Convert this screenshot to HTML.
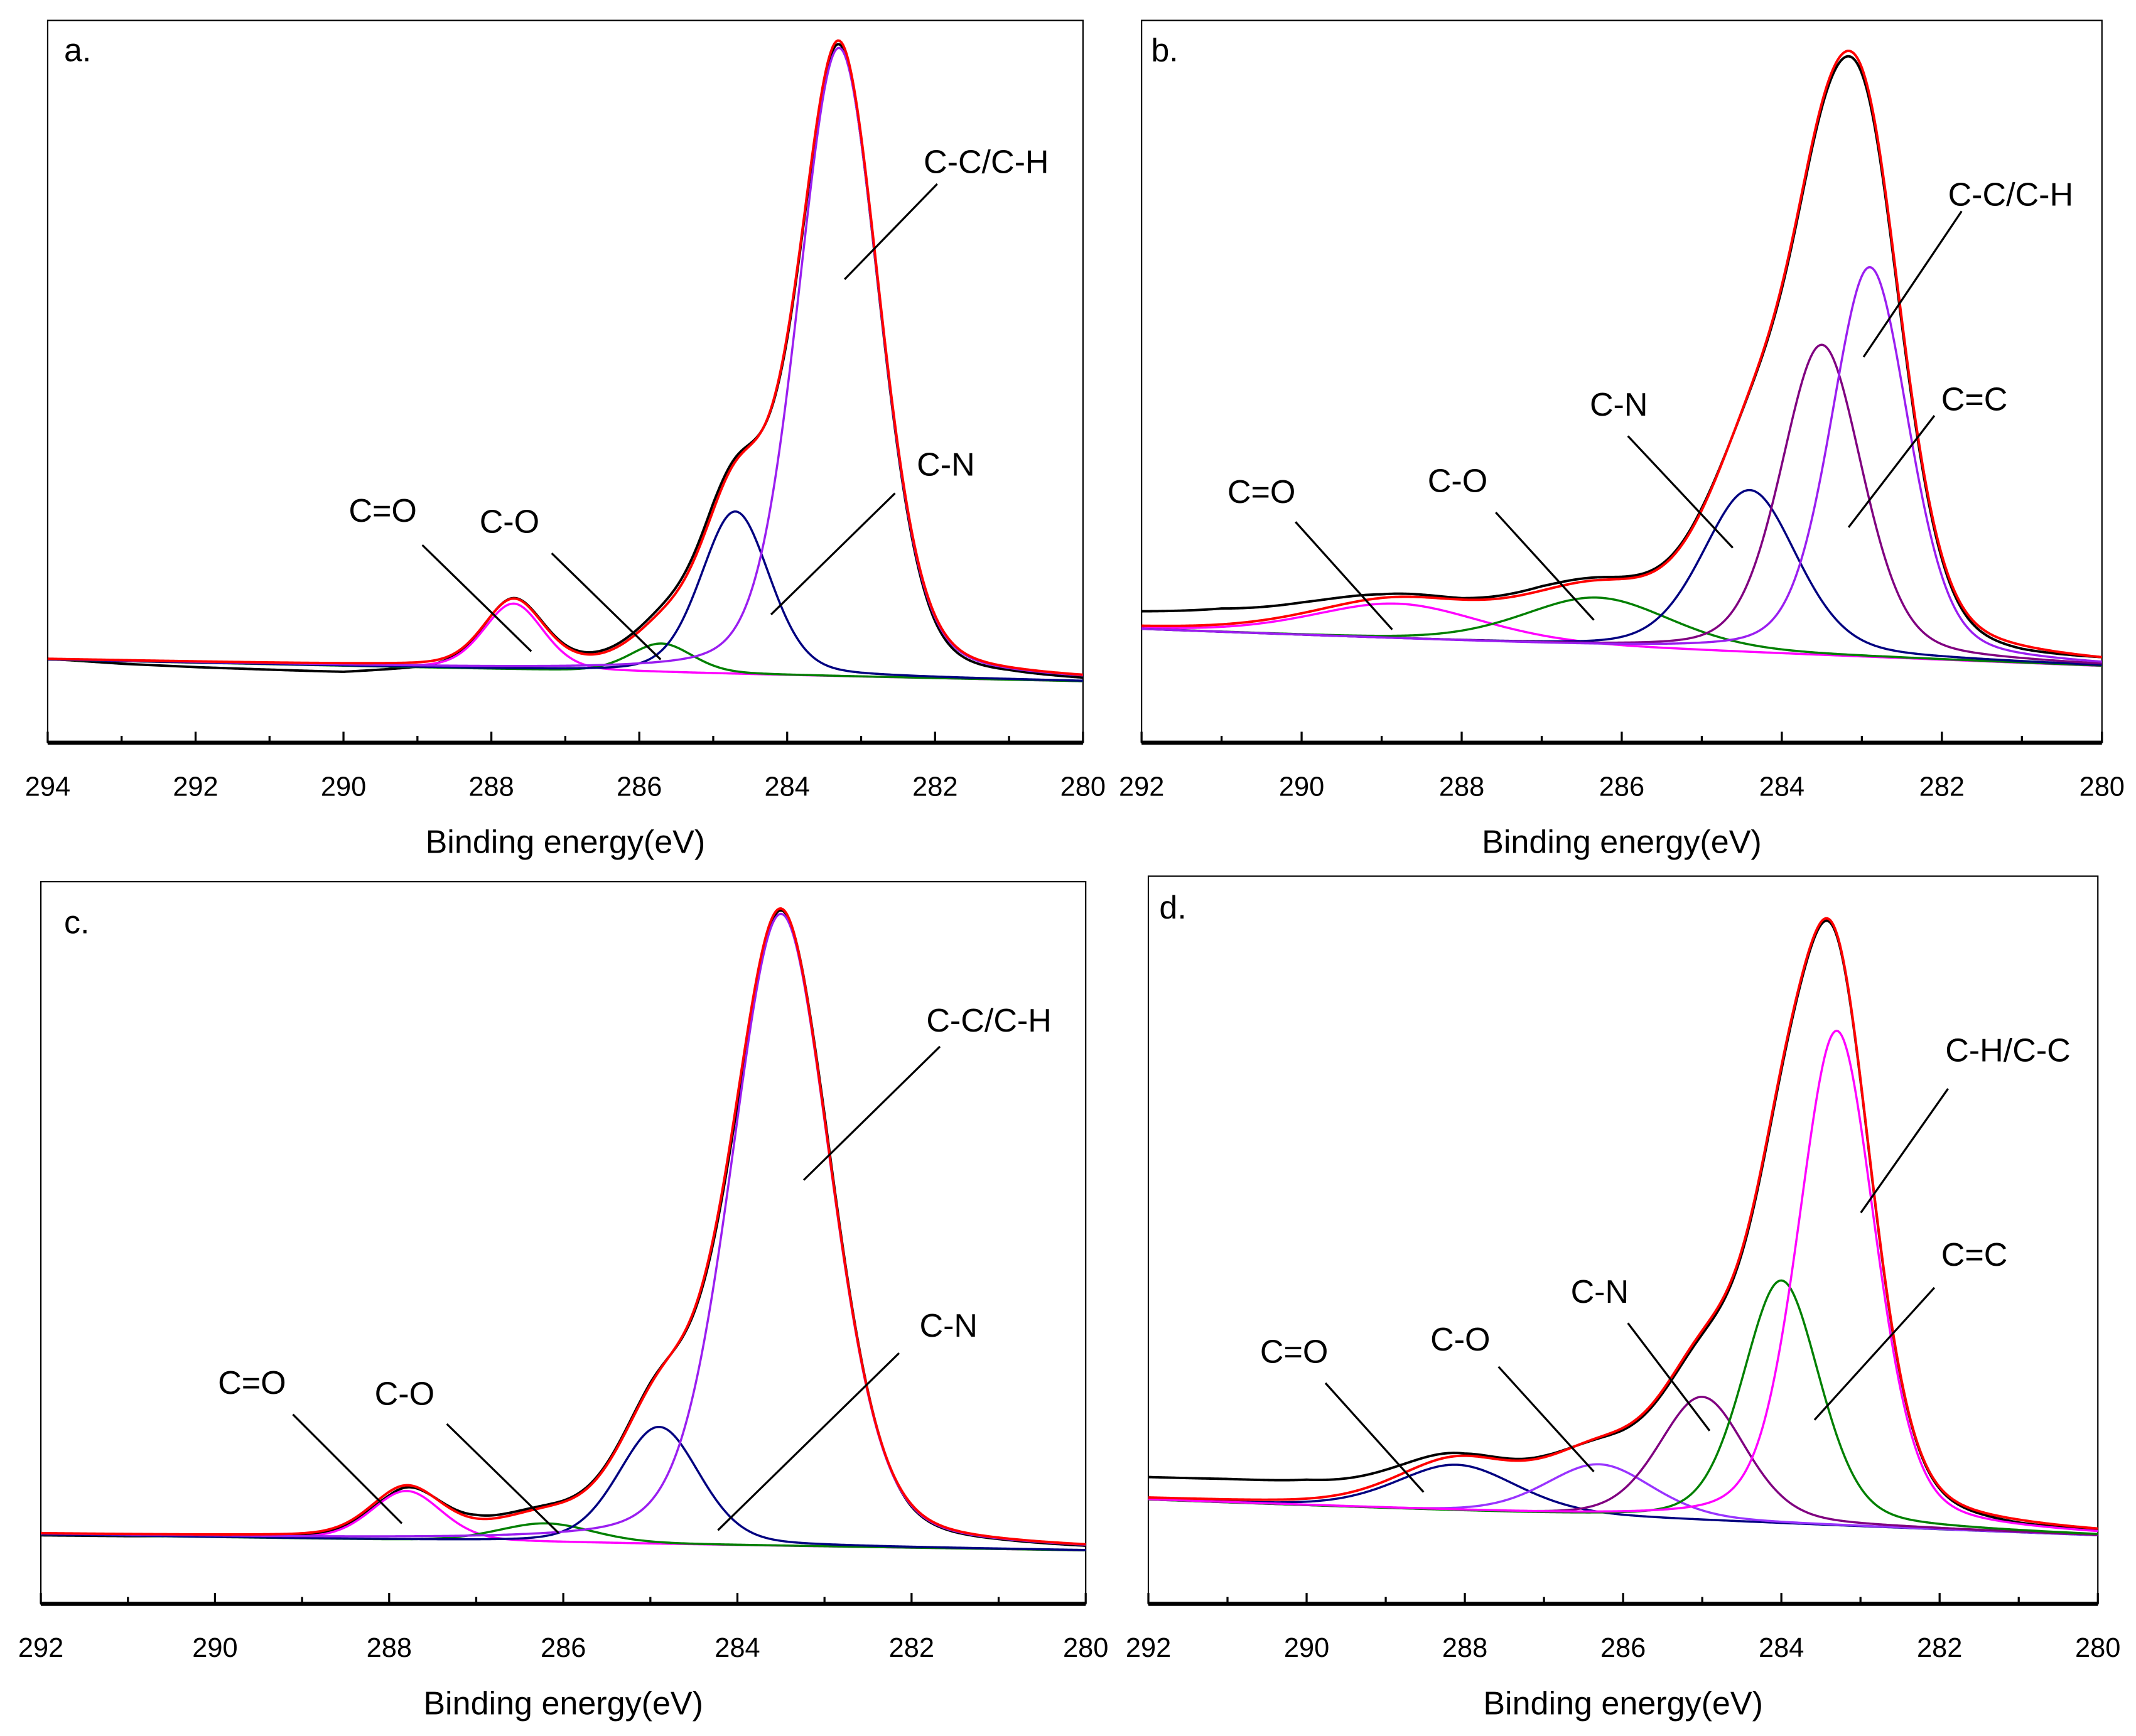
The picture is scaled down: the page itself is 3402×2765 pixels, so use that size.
<!DOCTYPE html>
<html><head><meta charset="utf-8"><style>
html,body{margin:0;padding:0;background:#fff}
svg{display:block}
text{font-family:"Liberation Sans",Arial,sans-serif;fill:#000}
</style></head><body>
<svg id="fig" width="3402" height="2765" viewBox="0 0 1568 1274" preserveAspectRatio="none" xmlns="http://www.w3.org/2000/svg"></svg>
<script>
// ---- data: panel a ----
const aCenters=[287.7,285.7,284.7,283.3];
const aHeights=[9.1,4.0,22.5,87];
const aWidths=[0.95,1.0,1.1,1.3];
const aBase=[11.5,8.5];
const aResid=[0,-0.5,-0.8,-1,-1.2,-0.6,0,0.2,0.5,1,-0.5,-0.5,-0.8,-0.4,-0.4];
// ---- data: panel b ----
const bCenters=[288.8,286.3,284.4,283.5,282.9];
const bHeights=[4.9,6.8,22.5,43,54];
const bWidths=[2.5,2.2,1.4,1.2,1.15];
const bBase=[15.7,10.6];
const bResid=[2,2.2,1.5,0.5,0.2,0.6,0.3,0.3,-0.5,-0.8,-0.5,-0.5,0];
// ---- data: panel c ----
const cCenters=[287.8,286.2,284.9,283.5];
const cHeights=[6.8,2.6,16.2,87.5];
const cWidths=[0.95,1.3,1.1,1.35];
const cBase=[9.6,7.4];
const cResid=[-0.3,-0.3,-0.2,-0.2,-0.5,0.5,0.2,0.3,-1,0.5,-0.3,-0.2,-0.2];
// ---- data: panel d ----
const dCenters=[288.1,286.3,285.0,284.0,283.3];
const dHeights=[6.4,7.2,17,33.4,68];
const dWidths=[1.8,1.6,1.3,1.15,1.15];
const dBase=[14.3,9.4];
const dResid=[2.8,2.8,2.6,1.5,0.3,0.2,-0.3,-0.5,-0.5,-0.2,-0.2,-0.4,-0.2];
const tickLabelsA=["294","292","290","288","286","284","282","280"];
const tickLabelsB=["292","290","288","286","284","282","280"];

const NS="http://www.w3.org/2000/svg";
const svg=document.getElementById('fig');
function mk(tag,attrs,parent){const e=document.createElementNS(NS,tag);for(const k in attrs)e.setAttribute(k,attrs[k]);(parent||svg).appendChild(e);return e;}

const panels=[
 {id:'a',L:35,T:15,R:795,B:545,x0:294,x1:280,eta:0.25,centers:aCenters,heights:aHeights,widths:aWidths,base:aBase,resid:aResid,ticks:tickLabelsA,
  colors:['#ff00ff','#008000','#000080','#9a1ef0'],
  labels:[['a.',47,45],['C-C/C-H',678,127],['C-N',673,349],['C=O',256,383],['C-O',352,391]],
  leaders:[[688,135,620,205],[657,362,566,451],[310,400,390,478],[405,406,485,484]],tickY:584,titleY:626},
 {id:'b',L:838,T:15,R:1543,B:545,x0:292,x1:280,eta:0.3,centers:bCenters,heights:bHeights,widths:bWidths,base:bBase,resid:bResid,ticks:tickLabelsB,
  colors:['#ff00ff','#008000','#000080','#800080','#9a1ef0'],
  labels:[['b.',845,45],['C-C/C-H',1430,151],['C=C',1425,301],['C-N',1167,305],['C-O',1048,361],['C=O',901,369]],
  leaders:[[1440,155,1368,262],[1420,305,1357,387],[1195,320,1272,402],[1098,376,1170,455],[951,383,1022,462]],tickY:584,titleY:626},
 {id:'c',L:30,T:647,R:797,B:1177,x0:292,x1:280,eta:0.25,centers:cCenters,heights:cHeights,widths:cWidths,base:cBase,resid:cResid,ticks:tickLabelsB,
  colors:['#ff00ff','#008000','#000080','#9a1ef0'],
  labels:[['c.',47,685],['C-C/C-H',680,757],['C-N',675,981],['C=O',160,1023],['C-O',275,1031]],
  leaders:[[690,768,590,866],[660,993,527,1123],[215,1038,295,1118],[328,1045,410,1125]],tickY:1216,titleY:1258},
 {id:'d',L:843,T:643,R:1540,B:1177,x0:292,x1:280,eta:0.3,centers:dCenters,heights:dHeights,widths:dWidths,base:dBase,resid:dResid,ticks:tickLabelsB,
  colors:['#000080','#9933ff','#800080','#008000','#ff00ff'],
  labels:[['d.',851,674],['C-H/C-C',1428,779],['C=C',1425,929],['C-N',1153,956],['C-O',1050,991],['C=O',925,1000]],
  leaders:[[1430,799,1366,890],[1420,945,1332,1042],[1195,971,1255,1050],[1100,1003,1170,1080],[973,1015,1045,1095]],tickY:1216,titleY:1258}
];

function pv(x,c,h,w,eta){const t=4*(x-c)*(x-c)/(w*w);return h*((1-eta)*Math.exp(-Math.LN2*t)+eta/(1+t));}

panels.forEach(p=>{
 const g=mk('g',{});
 
 
 const sx=x=>p.L+(p.x0-x)/(p.x0-p.x1)*(p.R-p.L);
 const sy=v=>p.B-v*(p.B-p.T)/100;
 const base=x=>p.base[0]+(p.base[1]-p.base[0])*(p.x0-x)/(p.x0-p.x1);
 const resid=x=>{const f=(p.x0-x);const i=Math.min(Math.floor(f),p.resid.length-2);const t=f-i;return p.resid[i]*(1-t)+p.resid[i+1]*t;};
 const N=600,xs=[];for(let i=0;i<=N;i++)xs.push(p.x0-(p.x0-p.x1)*i/N);
 const path=f=>xs.map((x,i)=>(i?'L':'M')+sx(x).toFixed(2)+' '+sy(f(x)).toFixed(2)).join('');
 const env=x=>base(x)+p.centers.reduce((s,c,k)=>s+pv(x,c,p.heights[k],p.widths[k],p.eta),0);
 const fr=mk('rect',{x:p.L,y:p.T,width:p.R-p.L,height:p.B-p.T,fill:'none',stroke:'#000','stroke-width':1},g);
 
 
 const dl=mk('path',{d:path(x=>env(x)+resid(x)),fill:'none',stroke:'#000','stroke-width':1.8},g);
 
 
 p.centers.forEach((c,k)=>{
  const cp=mk('path',{d:path(x=>base(x)+pv(x,c,p.heights[k],p.widths[k],p.eta)),fill:'none',stroke:p.colors[k],'stroke-width':1.6},g);
  
  
 });
 const el=mk('path',{d:path(env),fill:'none',stroke:'#ff0000','stroke-width':1.8},g);
 
 
 const ax=mk('line',{x1:p.L,y1:p.B,x2:p.R,y2:p.B,stroke:'#000','stroke-width':3},g);
 
 
 for(let v=p.x0;v>=p.x1;v--){
  const major=((p.x0-v)%2===0);
  const t=mk('line',{x1:sx(v),y1:p.B,x2:sx(v),y2:p.B-(major?8:5),stroke:'#000','stroke-width':1.5},g);
  
  
 }
 p.ticks.forEach(lbl=>{
  const tl=mk('text',{x:sx(+lbl),y:p.tickY,'font-size':20,'text-anchor':'middle'},g);
  tl.textContent=lbl;
  
  
 });
 const tt=mk('text',{x:(p.L+p.R)/2,y:p.titleY,'font-size':24,'text-anchor':'middle'},g);
 tt.textContent='Binding energy(eV)';
 
 
 p.labels.forEach(l=>{
  const t=mk('text',{x:l[1],y:l[2],'font-size':24},g);
  t.textContent=l[0];
  
  
 });
 p.leaders.forEach(l=>{
  const ln=mk('line',{x1:l[0],y1:l[1],x2:l[2],y2:l[3],stroke:'#000','stroke-width':1.5},g);
  
  
 });
});
</script>
</body></html>
